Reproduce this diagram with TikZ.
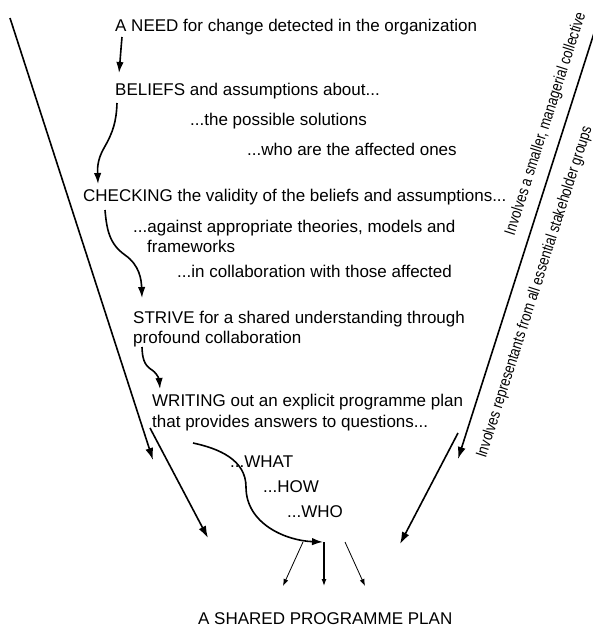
\documentclass[tikz,border=0pt]{standalone}
\usepackage{fontspec}
\setmainfont{Liberation Sans}
\usetikzlibrary{arrows.meta}
\begin{document}
\begin{tikzpicture}[x=1pt,y=1pt,
  lbl/.style={anchor=base west, inner sep=0pt, font=\fontsize{17}{20}\selectfont},
  side/.style={inner sep=0pt, font=\fontsize{16}{19}\selectfont, rotate=72.2},
  flow/.style={line width=1.6pt, -{Latex[length=11pt,width=7.5pt]}},
  funnel/.style={line width=1.6pt, -{Latex[length=12pt,width=8pt]}},
  fan/.style={line width=0.8pt, -{Latex[length=7pt,width=5pt]}},
  hub/.style={line width=1.2pt, -{Latex[length=7pt,width=5pt]}},
]
\useasboundingbox (0,0) rectangle (593,-627);

% step texts
\node[lbl] (need)   at (115,-31)  {A NEED for change detected in the organization};
\node[lbl] (belief) at (115,-95)  {BELIEFS and assumptions about...};
\node[lbl] (sol)    at (190,-125) {...the possible solutions};
\node[lbl] (who1)   at (247,-155) {...who are the affected ones};
\node[lbl] (check)  at (83,-201)  {CHECKING the validity of the beliefs and assumptions...};
\node[lbl] (theo)   at (133,-232) {...against appropriate theories, models and};
\node[lbl] (frame)  at (147,-252) {frameworks};
\node[lbl] (collab) at (177,-277) {...in collaboration with those affected};
\node[lbl] (strive) at (133,-323) {STRIVE for a shared understanding through};
\node[lbl] (prof)   at (133,-343) {profound collaboration};
\node[lbl] (write)  at (152,-406) {WRITING out an explicit programme plan};
\node[lbl] (ans)    at (152,-427) {that provides answers to questions...};
\node[lbl] (what)   at (230,-467) {...WHAT};
\node[lbl] (how)    at (263,-492) {...HOW};
\node[lbl] (whoq)   at (287,-517) {...WHO};
\node[lbl] (plan)   at (198,-624) {A SHARED PROGRAMME PLAN};

% texts along the right funnel edge
\node[side] (small) at (546,-124) {\scalebox{0.815}[1]{Involves a smaller, managerial collective}};
\node[side] (reps)  at (535,-292) {\scalebox{0.815}[1]{Involves representants from all essential stakeholder groups}};

% connector end points
\coordinate (a1) at (122,-37);   \coordinate (a2) at (119,-73);
\coordinate (b1) at (117,-103);  \coordinate (b2) at (104,-148);  \coordinate (b3) at (98,-184);
\coordinate (c1) at (105,-210);  \coordinate (c2) at (125,-255);  \coordinate (c3) at (142,-298);
\coordinate (d1) at (142,-347);  \coordinate (d2) at (152,-370);  \coordinate (d3) at (160,-389);
\coordinate (e1) at (193,-443);  \coordinate (e2) at (246,-487);  \coordinate (e3) at (323,-542);
\coordinate (h)  at (324,-542);
\coordinate (fl) at (303,-542);  \coordinate (fr) at (345,-542);
\coordinate (tl) at (283,-586);  \coordinate (tm) at (324,-586);  \coordinate (tr) at (365,-586);
\coordinate (L0) at (10,-18);    \coordinate (L1) at (153,-460);
\coordinate (L2) at (150,-428);  \coordinate (L3) at (208,-538);
\coordinate (R0) at (595,-30);   \coordinate (R1) at (458,-459);
\coordinate (R2) at (458,-433);  \coordinate (R3) at (400,-544);

% flow between the steps
\draw[flow] (a1) to[out=-95,in=85] (a2);
\draw[flow] (b1) to[out=-92,in=60] (b2) to[out=240,in=92] (b3);
\draw[flow] (c1) to[out=-85,in=145] (c2) to[out=-35,in=92] (c3);
\draw[flow] (d1) to[out=-88,in=150] (d2) to[out=-35,in=95] (d3);
\draw[flow] (e1) to[out=-12,in=90] (e2) to[out=-90,in=178] (e3);

% fan into the shared plan
\draw[fan] (fl) -- (tl);
\draw[hub] (h) -- (tm);
\draw[fan] (fr) -- (tr);

% funnel edges
\draw[funnel] (L0) -- (L1);
\draw[funnel] (L2) -- (L3);
\draw[funnel] (R0) -- (R1);
\draw[funnel] (R2) -- (R3);
\end{tikzpicture}
\end{document}
